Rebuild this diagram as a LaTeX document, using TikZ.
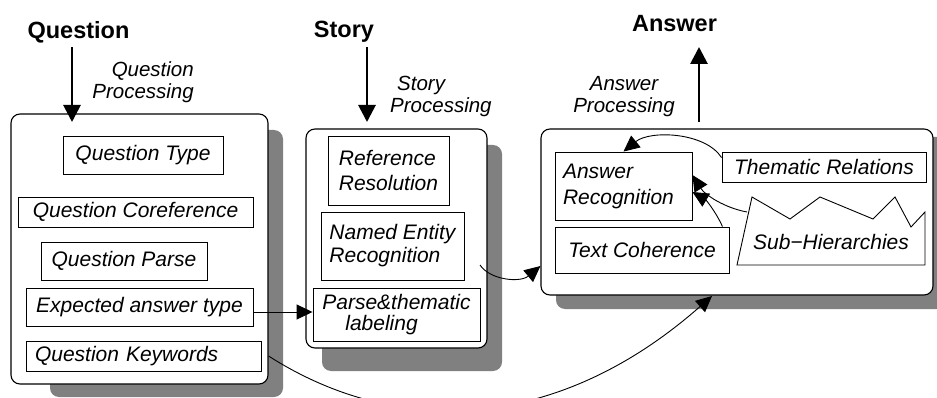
\documentclass[tikz,border=0pt]{standalone}
\usepackage{fontspec}
\setmainfont{Liberation Sans}
\usetikzlibrary{arrows.meta,calc}
\definecolor{shadowgray}{RGB}{128,128,128}
\begin{document}
\begin{tikzpicture}[x=1pt,y=-1pt,
  outer/.style={draw,line width=1.1pt,rounded corners=9pt,fill=white,inner sep=0pt},
  shadowbox/.style={fill=shadowgray,rounded corners=9pt},
  inbox/.style={draw,line width=0.9pt,fill=white,inner sep=0pt,font=\fontsize{21}{25}\selectfont\itshape},
  plaintext/.style={inner sep=0pt,font=\fontsize{21}{25}\selectfont\itshape},
  titletext/.style={font=\fontsize{23.5}{28}\selectfont\bfseries,inner sep=0pt},
  proc/.style={font=\fontsize{20.5}{22}\selectfont\itshape,inner sep=0pt},
  heavyarrow/.style={line width=2.8pt,-{Triangle[length=17pt,width=17pt]}},
  thinarrow/.style={line width=0.9pt,-{Triangle[length=16pt,width=15pt]}}
]
\useasboundingbox (0,0) rectangle (937,398);
\clip (0,0) rectangle (937,398);

% titles
\node[titletext] (qtitle) at (78.5,32) {Question};
\node[titletext] (stitle) at (344,32) {Story};
\node[titletext] (atitle) at (674.5,24) {Answer};

% processing labels
\node[proc,align=right,anchor=east] (qproc) at (194,82) {Question\\Processing};
\node[proc,align=left,anchor=west] (sproc) at (390,96) {\hspace*{7pt}Story\\Processing};
\node[proc,align=center] (aproc) at (624,97) {Answer\\Processing};

% shadows
\fill[shadowbox] (50,130) rectangle (283,397);
\fill[shadowbox] (322,145) rectangle (502,371);
\fill[shadowbox] (556,137) rectangle (950,309);

% outer boxes
\node[outer,minimum width=257pt,minimum height=270pt] (qbox) at (139.5,249) {};
\node[outer,minimum width=181pt,minimum height=219pt] (sbox) at (396.5,238.5) {};
\node[outer,minimum width=392pt,minimum height=166pt] (abox) at (737,212) {};

% question processing boxes
\node[inbox,minimum width=160pt,minimum height=38pt] (qtype) at (143,155) {Question Type};
\node[inbox,minimum width=235pt,minimum height=30pt] (qcoref) at (135.5,212) {Question Coreference};
\node[inbox,minimum width=166pt,minimum height=38pt] (qparse) at (124,261) {Question Parse};
\node[inbox,minimum width=227pt,minimum height=38pt] (qexp) at (139.5,307) {Expected answer type};
\node[inbox,minimum height=30pt,inner xsep=9pt,text width=217pt,align=left] (qkey) at (143.5,356) {Question Keywords};

% story processing boxes
\node[inbox,minimum width=121pt,minimum height=69pt,align=left] (refres) at (388.5,170.5) {Reference\\Resolution};
\node[inbox,minimum width=143pt,minimum height=68pt,align=left,font=\fontsize{21}{23}\selectfont\itshape] (ner) at (392.5,246) {Named Entity\\Recognition};
\node[inbox,minimum width=167pt,minimum height=53pt,align=left,font=\fontsize{21}{21}\selectfont\itshape] (parse) at (396.5,314.5) {Parse\&thematic\\\hspace*{23pt}labeling};

% answer processing boxes
\node[inbox,minimum height=68pt,text width=121pt,inner xsep=8pt,align=left,font=\fontsize{21}{26}\selectfont\itshape] (ansrec) at (623.5,186) {Answer\\Recognition};
\node[inbox,minimum width=204pt,minimum height=30pt] (thematic) at (824,167) {Thematic Relations};
\node[inbox,minimum width=174pt,minimum height=46pt] (textcoh) at (642,250) {Text Coherence};
\draw[line width=0.9pt,fill=white] (737,265) -- (752,197) -- (790,219) -- (820,197) -- (873,219) -- (895,197) -- (911,227) -- (925,212) -- (925,265) -- cycle;
\node[plaintext] (subh) at (831,242) {Sub−Hierarchies};

% heavy arrows
\coordinate (qin) at (72,47);
\coordinate (qtip) at (72,122);
\coordinate (sin) at (367,47);
\coordinate (stip) at (367,122);
\coordinate (aout) at (699,122);
\coordinate (atip) at (699,47);
\draw[heavyarrow] (qin) -- (qtip);
\draw[heavyarrow] (sin) -- (stip);
\draw[heavyarrow] (aout) -- (atip);

% thin arrows
\coordinate (y312) at (0,312);
\draw[thinarrow] (qexp.east |- y312) -- (parse.west |- y312);
\coordinate (nerout) at (480,265);
\draw[thinarrow] (nerout) .. controls (490,280) and (520,283) .. ($(abox.west)+(0,54)$);
\coordinate (kwend) at (712,296);
\draw[thinarrow] (qbox.east |- qkey.east) .. controls (400,440) and (560,430) .. (kwend);
\draw[thinarrow] ($(thematic.north west)+(0,6)$) .. controls (705,132) and (650,130) .. (ansrec.north);
\coordinate (shout) at (747,212);
\draw[thinarrow] (shout) .. controls (725,208) and (705,195) .. ($(ansrec.east)+(0,-11)$);
\draw[thinarrow] ($(textcoh.north east)+(-7,0)$) .. controls (716,212) and (706,200) .. ($(ansrec.east)+(0,6)$);
\end{tikzpicture}
\end{document}
